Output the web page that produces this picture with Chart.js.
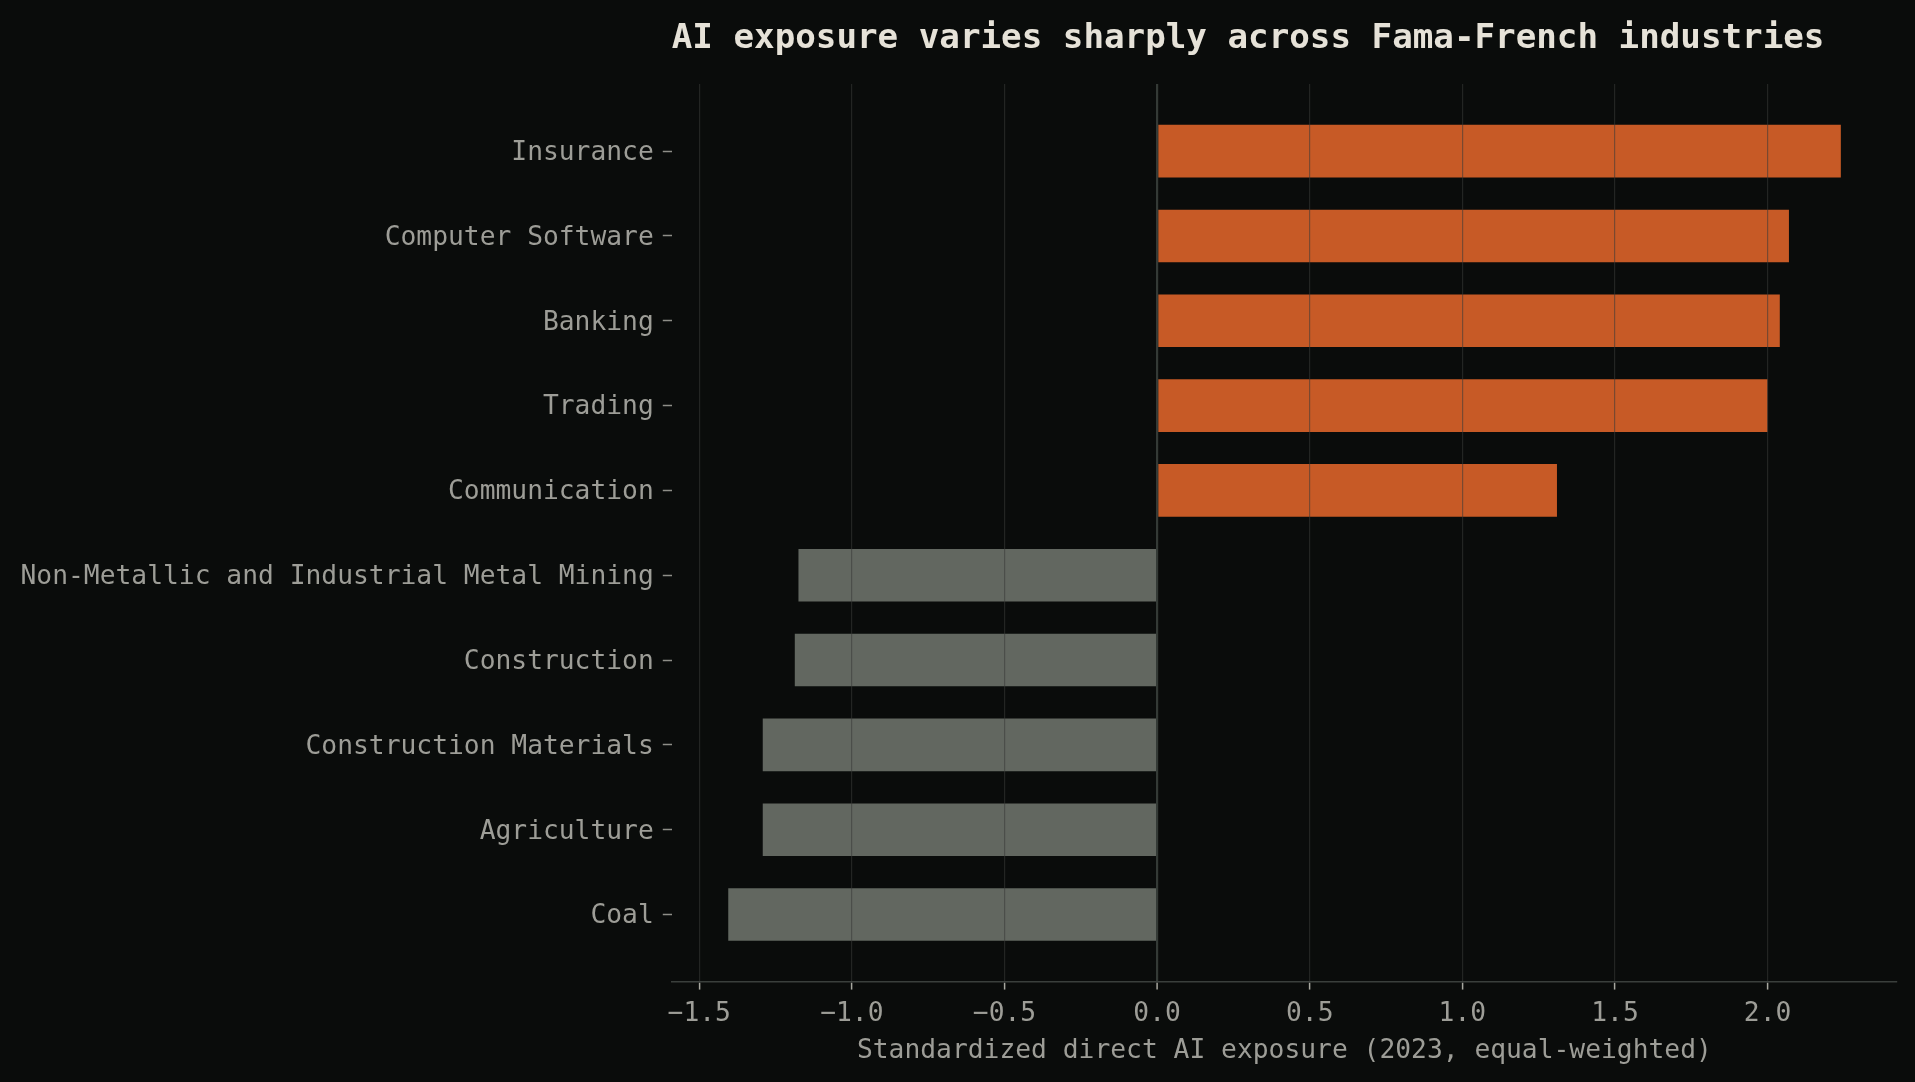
<!DOCTYPE html>
<html>
<head>
<meta charset="utf-8">
<script src="https://cdn.jsdelivr.net/npm/chart.js@4"></script>
<style>
  html, body { margin: 0; padding: 0; background: #0a0c0b; }
  #wrap { width: 1915px; height: 1082px; position: relative; }
</style>
</head>
<body>
<div id="wrap"><canvas id="c"></canvas></div>
<script>
const categories = [
  "Insurance",
  "Computer Software",
  "Banking",
  "Trading",
  "Communication",
  "Non-Metallic and Industrial Metal Mining",
  "Construction",
  "Construction Materials",
  "Agriculture",
  "Coal"
];
const exposure = [2.24, 2.07, 2.04, 2.00, 1.31, -1.175, -1.187, -1.292, -1.292, -1.405];
const xTickValues = [-1.5, -1.0, -0.5, 0.0, 0.5, 1.0, 1.5, 2.0];

const titleText = "AI exposure varies sharply across Fama-French industries";
const xAxisTitle = "Standardized direct AI exposure (2023, equal-weighted)";

const FONT = "'DejaVu Sans Mono', 'Liberation Mono', monospace";
const TEXT = "#9d9d97";
const POS = "#c75a26";
const NEG = "#626760";

const dataPoints = categories.map((c, i) => ({ x: exposure[i], y: i }));

new Chart(document.getElementById('c'), {
  type: 'bar',
  data: {
    datasets: [{
      data: dataPoints,
      backgroundColor: ctx => (ctx.raw && ctx.raw.x >= 0 ? POS : NEG),
      borderWidth: 0,
      barPercentage: 0.62,
      categoryPercentage: 1.0
    }]
  },
  options: {
    indexAxis: 'y',
    responsive: true,
    maintainAspectRatio: false,
    animation: false,
    layout: { padding: { left: 11.5, right: 18, top: 0, bottom: 15.5 } },
    plugins: {
      legend: { display: false },
      tooltip: { enabled: false },
      title: {
        display: true,
        text: titleText,
        align: 'start',
        fullSize: false,
        color: '#e6e2d8',
        font: { family: FONT, size: 34.2, weight: 'bold', lineHeight: 1.2 },
        padding: { top: 19, bottom: 24 }
      }
    },
    scales: {
      x: {
        type: 'linear',
        min: -1.59,
        max: 2.424,
        z: 1,
        afterBuildTicks: s => { s.ticks = xTickValues.map(v => ({ value: v })); },
        ticks: {
          color: TEXT,
          font: { family: FONT, size: 26.3 },
          padding: 9,
          maxRotation: 0,
          callback: v => Number(v).toFixed(1).replace('-', '\u2212')
        },
        grid: {
          display: true,
          z: 1,
          drawOnChartArea: true,
          drawTicks: true,
          tickLength: 8,
          tickWidth: 1.5,
          tickColor: '#a8a8a0',
          color: ctx => (ctx.tick && ctx.tick.value === 0 ? '#343a36' : 'rgba(56,58,56,0.55)'),
          lineWidth: ctx => (ctx.tick && ctx.tick.value === 0 ? 2.2 : 1.2)
        },
        border: { display: true, color: '#3a3f3c', width: 1.6, z: 1 },
        title: {
          display: true,
          text: xAxisTitle,
          color: TEXT,
          font: { family: FONT, size: 26.3 },
          padding: { top: -4.2, bottom: 0 }
        }
      },
      y: {
        type: 'linear',
        reverse: true,
        offset: false,
        min: -0.791,
        max: 9.791,
        afterBuildTicks: s => { s.ticks = categories.map((c, i) => ({ value: i })); },
        ticks: {
          color: TEXT,
          font: { family: FONT, size: 26.3 },
          padding: 9,
          labelOffset: 2,
          autoSkip: false,
          callback: v => categories[v]
        },
        grid: {
          display: true,
          offset: false,
          drawOnChartArea: false,
          drawTicks: true,
          tickLength: 9,
          tickWidth: 1.5,
          tickColor: '#8e8e88'
        },
        border: { display: false }
      }
    }
  }
});
</script>
</body>
</html>
